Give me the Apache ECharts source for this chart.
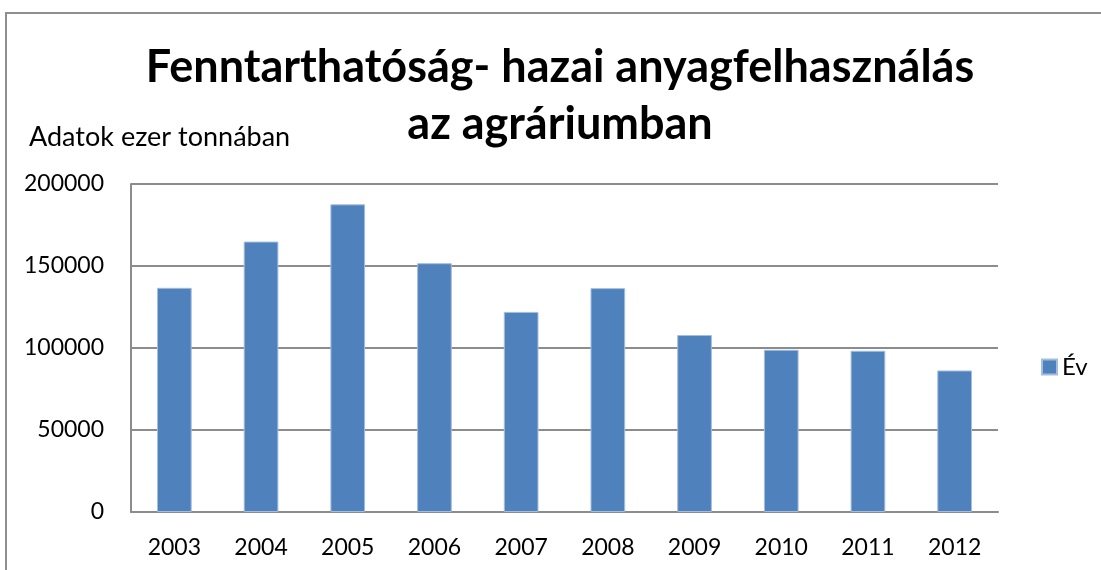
<!DOCTYPE html>
<html>
<head>
<meta charset="utf-8">
<script src="https://cdn.jsdelivr.net/npm/echarts@6/dist/echarts.min.js"></script>
<style>
html,body{margin:0;padding:0;background:#fff;}
#chart{width:1101px;height:570px;}
</style>
</head>
<body>
<div id="chart"></div>
<script>
const titleText = 'Fenntarthatóság- hazai anyagfelhasználás\naz agráriumban';
const unitLabel = 'Adatok ezer tonnában';
const seriesName = 'Év';
const years = ['2003','2004','2005','2006','2007','2008','2009','2010','2011','2012'];
const values = [136700, 164900, 187600, 151700, 122000, 136500, 107900, 98900, 98300, 86300];
const yTicks = { min: 0, max: 200000, interval: 50000 };

const FONT = 'Lato';
const chart = echarts.init(document.getElementById('chart'), null, {renderer: 'canvas'});
chart.setOption({
  backgroundColor: '#ffffff',
  animation: false,
  graphic: [{
    type: 'rect',
    shape: {x: 6, y: 13, width: 1300, height: 800},
    style: {fill: 'none', stroke: '#8f8f8f', lineWidth: 2},
    silent: true
  }],
  title: [{
    text: titleText,
    left: 560,
    top: 39,
    padding: 0,
    textAlign: 'center',
    textStyle: {fontFamily: FONT, fontWeight: 'bold', fontSize: 45, color: '#000', lineHeight: 57}
  }, {
    text: unitLabel,
    left: 29,
    top: 124,
    padding: 0,
    textStyle: {fontFamily: FONT, fontWeight: 'normal', fontSize: 27, color: '#000', lineHeight: 27}
  }],
  legend: {
    data: [seriesName],
    left: 1041,
    top: 355,
    padding: 0,
    icon: 'rect',
    itemWidth: 15,
    itemHeight: 15,
    itemGap: 7,
    textStyle: {fontFamily: FONT, fontSize: 24, color: '#000'}
  },
  grid: {left: 131, right: 103, top: 184, bottom: 58, containLabel: false},
  xAxis: {
    type: 'category',
    data: years,
    axisLine: {lineStyle: {color: '#8c8c8c', width: 2}},
    axisTick: {show: false},
    axisLabel: {fontFamily: FONT, fontSize: 23, color: '#000', margin: 24}
  },
  yAxis: {
    type: 'value',
    min: yTicks.min,
    max: yTicks.max,
    interval: yTicks.interval,
    axisLine: {show: true, lineStyle: {color: '#8c8c8c', width: 2}},
    axisTick: {show: false},
    splitLine: {lineStyle: {color: '#8c8c8c', width: 2}},
    axisLabel: {fontFamily: FONT, fontSize: 23, color: '#000', margin: 27, formatter: function (v) { return String(v); }}
  },
  series: [{
    name: seriesName,
    type: 'bar',
    data: values,
    barWidth: '40%',
    itemStyle: {color: '#4f81bd', borderColor: '#a3bddd', borderWidth: 1}
  }]
});
</script>
</body>
</html>
